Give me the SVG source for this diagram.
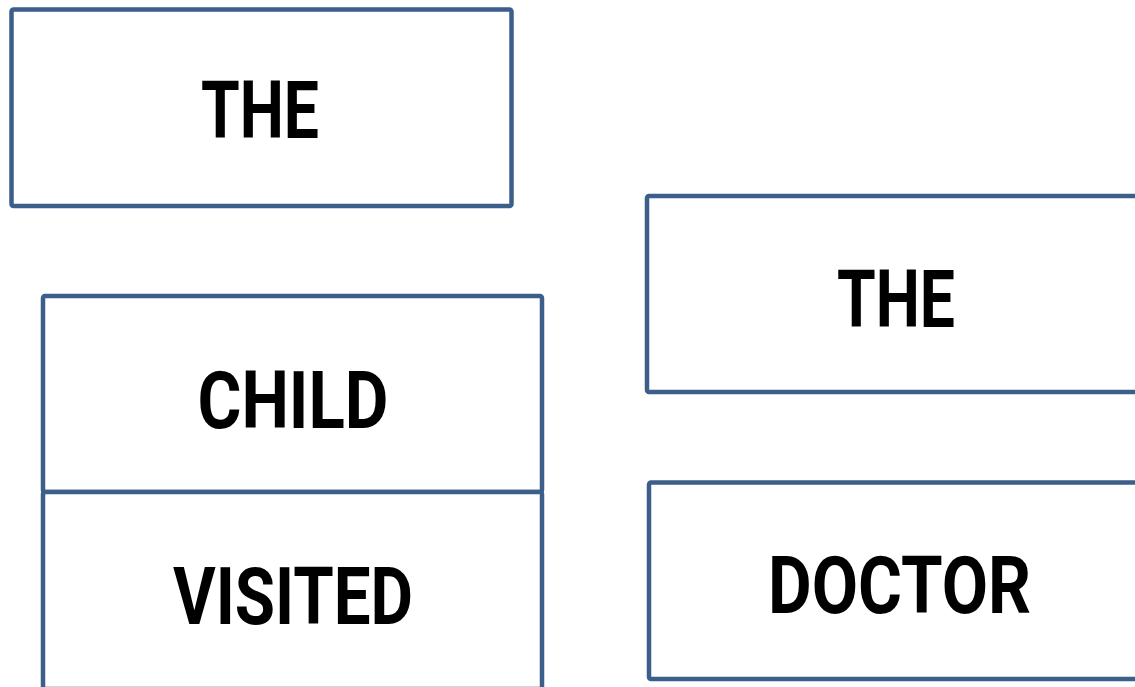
<svg xmlns="http://www.w3.org/2000/svg" width="1135" height="687" viewBox="0 0 1135 687">
<style>
.box{fill:#ffffff;stroke:#3b5e8b;stroke-width:4.5;stroke-linejoin:round}
.lbl{font-family:Roboto,"Liberation Sans",sans-serif;font-weight:bold;font-size:80px;fill:#000000;text-anchor:middle}
</style>
<rect width="1135" height="687" fill="#ffffff"/>
<g id="connectors"></g>
<g id="node-the1">
<rect class="box" x="11.5" y="9.5" width="500" height="196.5" rx="2"/>
<text class="lbl" x="260" y="138" textLength="118" lengthAdjust="spacingAndGlyphs">THE</text>
</g>
<g id="node-child">
<rect class="box" x="43" y="296" width="499" height="196" rx="2"/>
<text class="lbl" x="293" y="428" textLength="191" lengthAdjust="spacingAndGlyphs">CHILD</text>
</g>
<g id="node-visited">
<rect class="box" x="43" y="492" width="499" height="197" rx="2"/>
<text class="lbl" x="293" y="624" textLength="240" lengthAdjust="spacingAndGlyphs">VISITED</text>
</g>
<g id="node-the2">
<rect class="box" x="647" y="196" width="500" height="196" rx="2"/>
<text class="lbl" x="896" y="327" textLength="118" lengthAdjust="spacingAndGlyphs">THE</text>
</g>
<g id="node-doctor">
<rect class="box" x="649" y="482.5" width="500" height="196.5" rx="2"/>
<text class="lbl" x="899.5" y="613" textLength="263" lengthAdjust="spacingAndGlyphs">DOCTOR</text>
</g>
</svg>
